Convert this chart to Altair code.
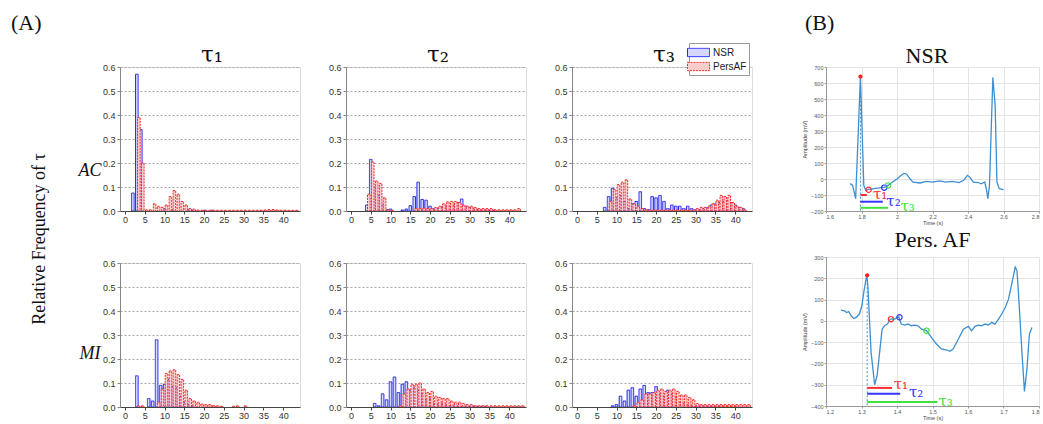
import altair as alt
import pandas as pd

# ---------------- data: panel (A) histograms ----------------
SERIES = ["NSR", "PersAF"]
LAGS = list(range(1, 44))
LAG_TICKS = [0, 5, 10, 15, 20, 25, 30, 35, 40]
FREQ_TICKS = [0.0, 0.1, 0.2, 0.3, 0.4, 0.5, 0.6]
TAU_TITLES = ["τ₁", "τ₂", "τ₃"]
ROW_LABELS = ["AC", "MI"]

AC1_NSR = [0, 0.075, 0.57, 0.34, 0, 0, 0, 0, 0, 0.01,
           0, 0.004, 0, 0, 0, 0.005, 0.004, 0, 0, 0.003,
           0, 0.003, 0, 0, 0, 0, 0, 0, 0, 0,
           0, 0, 0, 0, 0, 0, 0, 0, 0, 0,
           0, 0, 0]
AC1_AF = [0, 0, 0.39, 0.2, 0.005, 0.005, 0.03, 0.02, 0.015, 0.025,
          0.06, 0.085, 0.07, 0.04, 0.025, 0.01, 0.008, 0.004, 0.003, 0.003,
          0.003, 0.003, 0.003, 0.003, 0.003, 0.003, 0.003, 0.003, 0.003, 0.003,
          0.003, 0.003, 0.003, 0.003, 0.004, 0.006, 0.006, 0.004, 0.003, 0.003,
          0.003, 0.003, 0.003]
AC2_NSR = [0, 0, 0, 0.025, 0.215, 0.1, 0.065, 0.025, 0.005, 0.008,
           0, 0, 0.004, 0.008, 0.022, 0.06, 0.12, 0.048, 0.045, 0.02,
           0.01, 0.012, 0.018, 0.02, 0.02, 0.025, 0.035, 0.05, 0.02, 0.015,
           0.01, 0.006, 0.005, 0.004, 0.003, 0.003, 0, 0, 0, 0,
           0, 0, 0]
AC2_AF = [0, 0, 0, 0.07, 0.205, 0.125, 0.115, 0.055, 0.005, 0.003,
          0, 0, 0, 0, 0, 0.01, 0.01, 0.012, 0.01, 0.01,
          0.015, 0.02, 0.03, 0.038, 0.04, 0.04, 0.035, 0.025, 0.02, 0.02,
          0.015, 0.01, 0.01, 0.01, 0.01, 0.005, 0.005, 0.005, 0.005, 0.005,
          0.005, 0.01, 0]
AC3_NSR = [0, 0, 0, 0, 0, 0, 0.015, 0.06, 0.095, 0.055,
           0.065, 0.04, 0.01, 0.03, 0.04, 0.08, 0.01, 0.005, 0.06, 0.055,
           0.065, 0.04, 0.01, 0.025, 0.02, 0.02, 0.01, 0.02, 0.01, 0.005,
           0.005, 0.01, 0.015, 0.025, 0.03, 0.035, 0.04, 0.045, 0.035, 0.025,
           0.015, 0.01, 0]
AC3_AF = [0, 0, 0, 0, 0, 0, 0, 0.04, 0.09, 0.11,
          0.12, 0.13, 0.05, 0.03, 0.02, 0.01, 0.005, 0.004, 0.004, 0.004,
          0.004, 0.004, 0.004, 0.004, 0.004, 0.004, 0.004, 0.004, 0.004, 0.01,
          0.015, 0.015, 0.02, 0.03, 0.045, 0.065, 0.06, 0.065, 0.035, 0.02,
          0.015, 0.005, 0]
MI1_NSR = [0, 0, 0.13, 0, 0, 0.035, 0.025, 0.28, 0.09, 0.095,
           0.115, 0.085, 0.08, 0.045, 0.02, 0.01, 0.005, 0, 0, 0,
           0, 0, 0, 0, 0, 0, 0, 0, 0, 0,
           0, 0, 0, 0, 0, 0, 0, 0, 0, 0,
           0, 0, 0]
MI1_AF = [0, 0, 0.005, 0.005, 0, 0, 0, 0.02, 0.075, 0.14,
          0.15, 0.155, 0.135, 0.115, 0.07, 0.035, 0.025, 0.02, 0.012, 0.01,
          0.01, 0.006, 0.005, 0.003, 0, 0, 0.003, 0.005, 0, 0.005,
          0, 0, 0, 0, 0, 0, 0, 0, 0, 0,
          0, 0, 0]
MI2_NSR = [0, 0, 0, 0, 0, 0.015, 0.005, 0.055, 0.03, 0.105,
           0.125, 0.06, 0.095, 0.105, 0.07, 0.08, 0.07, 0.055, 0.03, 0.035,
           0.015, 0.01, 0.015, 0.01, 0.005, 0.005, 0.005, 0.003, 0.003, 0.003,
           0.003, 0.003, 0.003, 0.003, 0, 0, 0, 0, 0, 0,
           0, 0, 0]
MI2_AF = [0, 0, 0, 0, 0, 0, 0, 0, 0, 0,
          0, 0.005, 0.055, 0.075, 0.095, 0.095, 0.1, 0.075, 0.06, 0.065,
          0.045, 0.04, 0.035, 0.035, 0.025, 0.02, 0.02, 0.015, 0.01, 0.01,
          0.005, 0.005, 0.005, 0.005, 0.005, 0.005, 0.005, 0.005, 0.005, 0.005,
          0.005, 0.005, 0.005]
MI3_NSR = [0, 0, 0, 0, 0, 0, 0, 0, 0.005, 0.01,
           0.045, 0.025, 0.07, 0.08, 0.045, 0.075, 0.09, 0.06, 0.06, 0.085,
           0.055, 0.045, 0.07, 0.055, 0.04, 0.02, 0.015, 0.01, 0.005, 0.004,
           0.004, 0.004, 0.004, 0.004, 0.004, 0.004, 0.004, 0.004, 0.004, 0.004,
           0, 0, 0]
MI3_AF = [0, 0, 0, 0, 0, 0, 0, 0, 0, 0,
          0, 0, 0, 0.005, 0.02, 0.03, 0.055, 0.055, 0.06, 0.07,
          0.075, 0.065, 0.07, 0.075, 0.065, 0.05, 0.05, 0.04, 0.03, 0.015,
          0.01, 0.01, 0.01, 0.01, 0.01, 0.01, 0.01, 0.01, 0.01, 0.01,
          0.01, 0.01, 0.01]

# ---------------- data: panel (B) ECG traces ----------------
NSR_TIME = [1.736, 1.75, 1.767, 1.794, 1.813, 1.824, 1.84, 1.87, 1.9, 1.928,
            1.95, 1.973, 2.0, 2.02, 2.04, 2.055, 2.074, 2.09, 2.13, 2.165,
            2.2, 2.24, 2.275, 2.31, 2.35, 2.375, 2.397, 2.41, 2.43, 2.457,
            2.475, 2.494, 2.503, 2.512, 2.521, 2.54, 2.553, 2.563, 2.576, 2.6]
NSR_AMP = [-29, -40, -123, 640, -40, -71, -65, -60, -55, -52,
           -40, -20, 0, 20, 35, 30, 0, -20, -25, -15,
           -20, -12, -20, -15, -22, -8, 23, 12, -20, -22,
           -30, -19, -60, -123, -40, 635, 460, -19, -60, -66]
NSR_PEAK = (1.794, 640)
NSR_TAU_T = [1.84, 1.928, 1.95]
NSR_TAU_A = [-67, -54, -40]
NSR_BAR_END = [1.83, 1.92, 1.95]
NSR_BAR_Y = [-100, -142, -180]
NSR_LAB_T = [1.865, 1.94, 2.02]
NSR_LAB_A = [-94, -137, -170]
NSR_XTICKS = [1.6, 1.8, 2.0, 2.2, 2.4, 2.6, 2.8]
NSR_YTICKS = [-200, -100, 0, 100, 200, 300, 400, 500, 600, 700]

AF_TIME = [1.242, 1.252, 1.258, 1.264, 1.271, 1.278, 1.285, 1.294, 1.301, 1.307,
           1.315, 1.318, 1.327, 1.337, 1.344, 1.351, 1.358, 1.365, 1.373, 1.381,
           1.393, 1.405, 1.412, 1.422, 1.431, 1.44, 1.45, 1.459, 1.469, 1.483,
           1.497, 1.511, 1.525, 1.54, 1.549, 1.558, 1.573, 1.587, 1.601, 1.61,
           1.62, 1.629, 1.639, 1.648, 1.658, 1.667, 1.676, 1.686, 1.695, 1.705,
           1.714, 1.724, 1.733, 1.738, 1.742, 1.752, 1.759, 1.766, 1.773, 1.78]
AF_AMP = [50, 47, 39, 44, 24, 11, 16, 32, 71, 141,
          214, 164, -148, -300, -257, -148, -39, -23, -15, 8,
          8, 19, -15, -20, -15, -23, -20, -23, -39, -46,
          -78, -109, -132, -137, -143, -132, -85, -39, -26, -46,
          -26, -20, -23, -15, -20, -7, -15, 8, 32, 63,
          102, 180, 253, 235, 133, -148, -332, -226, -62, -31]
AF_PEAK = (1.316, 214)
AF_TAU_T = [1.383, 1.407, 1.483]
AF_TAU_A = [8, 17, -46]
AF_BAR_END = [1.386, 1.409, 1.514]
AF_BAR_Y = [-315, -343, -381]
AF_LAB_T = [1.391, 1.434, 1.517]
AF_LAB_A = [-296, -334, -376]
AF_XTICKS = [1.2, 1.3, 1.4, 1.5, 1.6, 1.7, 1.8]
AF_YTICKS = [-400, -300, -200, -100, 0, 100, 200, 300]

TAU_KINDS = ["τ1", "τ2", "τ3"]

# ---------------- styles ----------------
NSR_STROKE, AF_STROKE = "#2626f2", "#f22a2a"
NSR_FILL, AF_FILL = "#d6d6ff", "#ffcccc"
ECG_BLUE = "#3d8fd1"
TAU_COLORS = ["#ff3030", "#3535ff", "#3fe03f"]
SANS = "Liberation Sans"
SERIF = "Liberation Serif"
MATH = "DejaVu Serif"


def note(text, x, y, **kw):
    return alt.Chart(pd.DataFrame({"label": [text]})).mark_text(**kw).encode(
        x=alt.value(x), y=alt.value(y), text="label:N")


def tau_title(text):
    return note(text, 92, -12, align="center", baseline="middle", font=MATH,
                fontSize=23, color="#111")


def hist(nsr, af, show_legend=False, notes=()):
    rows = []
    for s, vals in zip(SERIES, (nsr, af)):
        for lag, v in zip(LAGS, vals):
            if v > 0:
                rows.append({"lag": lag, "freq": v, "series": s})
    df = pd.DataFrame(rows)
    if show_legend:
        leg = alt.Legend(orient="none", legendX=117, legendY=-24, title=None,
                         symbolType="M-1.6,-0.6H1.6V0.6H-1.6Z", symbolSize=190,
                         symbolStrokeWidth=1, labelFont=SANS, labelFontSize=10,
                         labelColor="#222", labelOffset=7, padding=2, rowPadding=0,
                         strokeColor="#9a9a9a", fillColor="white")
    else:
        leg = None
    bars = alt.Chart(df).transform_calculate(
        pos="datum.lag + (datum.series === 'PersAF' ? 0.5 : 0)"
    ).mark_bar(size=2.6, strokeWidth=1, clip=True).encode(
        x=alt.X("pos:Q", scale=alt.Scale(domain=[0, 43], nice=False, zero=False),
                axis=alt.Axis(values=LAG_TICKS, title=None, grid=False, labelFont=SANS,
                              labelFontSize=9, labelColor="#333", domainColor="#444",
                              tickColor="#444", tickSize=3, labelPadding=1,
                              labelFlush=False)),
        y=alt.Y("freq:Q", scale=alt.Scale(domain=[0, 0.6], nice=False),
                axis=alt.Axis(values=FREQ_TICKS, format=".1f", title=None, grid=True,
                              gridDash=[2, 2], gridColor="#9a9a9a", gridWidth=0.9,
                              labelFont=SANS, labelFontSize=9, labelColor="#333",
                              domainColor="#888", tickColor="#888", tickSize=3,
                              labelPadding=2)),
        fill=alt.Fill("series:N", scale=alt.Scale(domain=SERIES, range=[NSR_FILL, AF_FILL]),
                      legend=leg),
        stroke=alt.Stroke("series:N", scale=alt.Scale(domain=SERIES, range=[NSR_STROKE, AF_STROKE]),
                          legend=leg),
        strokeDash=alt.StrokeDash("series:N", scale=alt.Scale(domain=SERIES, range=[[1, 0], [2, 1]]),
                                  legend=leg),
    )
    return alt.layer(bars, *notes).properties(width=180, height=144)


ac1_notes = [
    tau_title(TAU_TITLES[0]),
    note("(A)", -109, -44, align="left", baseline="middle", font=SERIF, fontSize=22, color="#111"),
    note("Relative Frequency of τ", -80, 172, angle=270, align="center", baseline="middle",
         font=SERIF, fontSize=18, color="#111"),
    note(ROW_LABELS[0], -30, 104, align="center", baseline="middle", font=SERIF,
         fontSize=18, fontStyle="italic", color="#111"),
]
mi_notes = [
    note(ROW_LABELS[1], -30, 91, align="center", baseline="middle", font=SERIF,
         fontSize=18, fontStyle="italic", color="#111"),
]

cells = [
    hist(AC1_NSR, AC1_AF, notes=ac1_notes),
    hist(AC2_NSR, AC2_AF, notes=[tau_title(TAU_TITLES[1])]),
    hist(AC3_NSR, AC3_AF, show_legend=True, notes=[tau_title(TAU_TITLES[2])]),
    hist(MI1_NSR, MI1_AF, notes=mi_notes),
    hist(MI2_NSR, MI2_AF),
    hist(MI3_NSR, MI3_AF),
]
grid = alt.concat(*cells, columns=3, spacing=alt.RowColnumber(row=52, column=46),
                  bounds="flush").resolve_scale(
    fill="independent", stroke="independent", strokeDash="independent"
).resolve_legend(fill="independent", stroke="independent", strokeDash="independent")


def ecg(time, amp, peak, tau_t, tau_a, bar_end, bar_y, lab_t, lab_a, xdom, xticks,
        ydom, yticks, height, notes=(), title=None):
    def xenc(field):
        return alt.X(field, scale=alt.Scale(domain=xdom, nice=False, zero=False),
                     axis=alt.Axis(values=xticks, format="~g", title="Time (s)", grid=True,
                                   gridColor="#e4e4e4", labelFont=SANS, labelFontSize=5.5,
                                   labelColor="#555", titleFont=SANS, titleFontSize=5.5,
                                   titleFontWeight="normal", titleColor="#444",
                                   domainColor="#999", tickColor="#999", tickSize=2,
                                   labelPadding=1, titlePadding=1))

    def yenc(field):
        return alt.Y(field, scale=alt.Scale(domain=ydom, nice=False, zero=False),
                     axis=alt.Axis(values=yticks, title="Amplitude (mV)", grid=True,
                                   gridColor="#e4e4e4", labelFont=SANS, labelFontSize=5.5,
                                   labelColor="#555", titleFont=SANS, titleFontSize=5.5,
                                   titleFontWeight="normal", titleColor="#444",
                                   domainColor="#999", tickColor="#999", tickSize=2,
                                   labelPadding=1, titlePadding=3))

    tau_scale = alt.Scale(domain=TAU_KINDS, range=TAU_COLORS)
    line = alt.Chart(pd.DataFrame({"t": time, "amp": amp})).mark_line(
        color=ECG_BLUE, strokeWidth=1.3).encode(x=xenc("t:Q"), y=yenc("amp:Q"))
    pk = pd.DataFrame({"t": [peak[0]], "amp": [peak[1]], "base": [ydom[0]]})
    drop = alt.Chart(pk).mark_rule(color=ECG_BLUE, strokeDash=[2, 2], strokeWidth=1).encode(
        x=xenc("t:Q"), y=yenc("amp:Q"), y2="base:Q")
    peak_pt = alt.Chart(pk).mark_point(filled=True, color="#ff2020", size=18, opacity=1).encode(
        x=xenc("t:Q"), y=yenc("amp:Q"))
    taus = pd.DataFrame({"kind": TAU_KINDS, "t": tau_t, "amp": tau_a,
                         "start": [peak[0]] * 3, "end": bar_end, "level": bar_y,
                         "lt": lab_t, "la": lab_a, "label": TAU_TITLES})
    circles = alt.Chart(taus).mark_point(filled=False, size=28, strokeWidth=1.2, opacity=1).encode(
        x=xenc("t:Q"), y=yenc("amp:Q"),
        color=alt.Color("kind:N", scale=tau_scale, legend=None))
    bars = alt.Chart(taus).mark_rule(strokeWidth=2).encode(
        x=xenc("start:Q"), x2="end:Q", y=yenc("level:Q"),
        color=alt.Color("kind:N", scale=tau_scale, legend=None))
    labels = alt.Chart(taus).mark_text(font=MATH, fontSize=15, align="left",
                                       baseline="middle").encode(
        x=xenc("lt:Q"), y=yenc("la:Q"), text="label:N",
        color=alt.Color("kind:N", scale=tau_scale, legend=None))
    ch = alt.layer(line, drop, bars, circles, peak_pt, labels, *notes).properties(
        width=213, height=height)
    if title:
        ch = ch.properties(title=alt.TitleParams(title, font=SERIF, fontSize=22,
                                                 fontWeight="normal", color="#111", offset=3))
    return ch


nsr_chart = ecg(NSR_TIME, NSR_AMP, NSR_PEAK, NSR_TAU_T, NSR_TAU_A, NSR_BAR_END, NSR_BAR_Y,
                NSR_LAB_T, NSR_LAB_A, [1.6, 2.8], NSR_XTICKS, [-200, 700], NSR_YTICKS,
                144,
                notes=[note("(B)", -21, -44, align="left", baseline="middle", font=SERIF,
                            fontSize=22, color="#111"),
                       note("NSR", 101, -11, align="center", baseline="middle", font=SERIF,
                            fontSize=22, color="#111")])
af_chart = ecg(AF_TIME, AF_AMP, AF_PEAK, AF_TAU_T, AF_TAU_A, AF_BAR_END, AF_BAR_Y,
               AF_LAB_T, AF_LAB_A, [1.2, 1.8], AF_XTICKS, [-400, 300], AF_YTICKS,
               149, title="Pers. AF")

panel_b = alt.vconcat(nsr_chart, af_chart, spacing=46, bounds="flush")

chart = alt.hconcat(grid, panel_b, spacing=49).properties(
    padding={"left": 10, "top": 11, "right": 0, "bottom": 0}
).configure_view(strokeWidth=0).configure(background="white")

chart.save("out.html", embed_options={"renderer": "svg", "actions": False})
